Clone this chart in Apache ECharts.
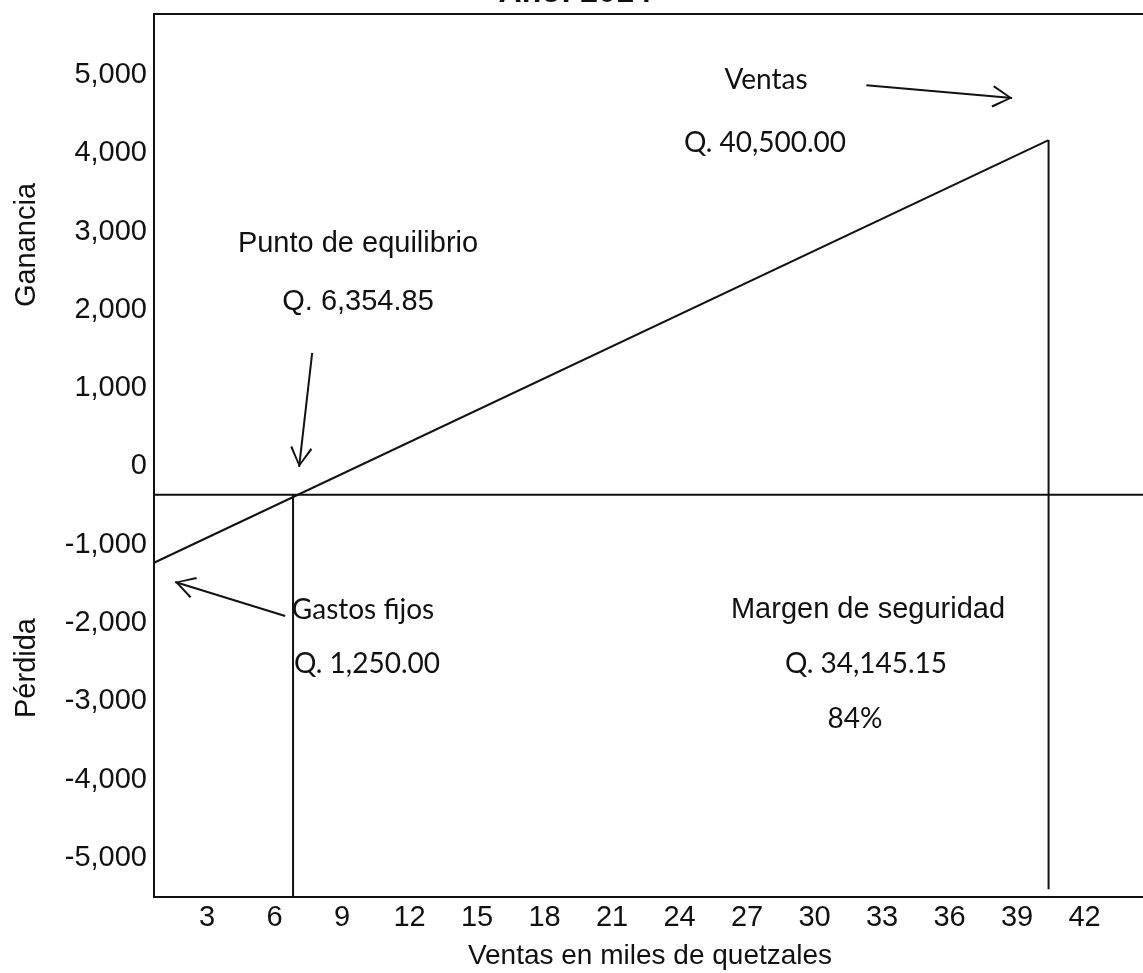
<!DOCTYPE html>
<html>
<head>
<meta charset="utf-8">
<script src="https://cdn.jsdelivr.net/npm/echarts@6/dist/echarts.min.js"></script>
<style>
  html, body { margin: 0; padding: 0; background: #fff; }
  #chart { width: 1143px; height: 973px; }
</style>
</head>
<body>
<div id="chart"></div>
<script>
// datos
const xTicks = [3, 6, 9, 12, 15, 18, 21, 24, 27, 30, 33, 36, 39, 42];
const yTicks = [-5000, -4000, -3000, -2000, -1000, 0, 1000, 2000, 3000, 4000, 5000];
const ventasX = [0.64, 40.4];          // miles de quetzales
const gananciaY = [-1230, 4170];       // recta de ganancia
const nivelCero = -360;                // linea horizontal del punto de equilibrio
const equilibrioX = 6.82;
const ventasTotalX = 40.4;
const xRange = [0.64, 44.73];
const yRange = [-5500, 5780];

// flechas: [desde, punta]
const flechaVentas = [[32.3, 4870], [38.78, 4706]];
const flechaEquilibrio = [[7.67, 1450], [7.09, -6]];
const flechaGastos = [[6.47, -1910], [1.58, -1475]];

const chart = echarts.init(document.getElementById("chart"));

const negro = "#111";
const arial = "'Liberation Sans', Arial, sans-serif";
const narrow = "'Liberation Sans Narrow', 'Arial Narrow', 'Liberation Sans', sans-serif";
const calibri = "Lato, 'Open Sans', sans-serif";

// punta de flecha abierta (la punta queda en el centro de la caja)
const punta = "path://M10,0 L20,17 L18.4,18.2 L10,3 L1.6,18.2 L0,17 Z M10,-18 L10.02,-18 L10,-17.98 Z";

function flecha(f) {
  return [
    { coord: f[0], symbol: "none" },
    { coord: f[1], symbol: punta, symbolSize: [22, 40] },
  ];
}

function linea(data) {
  return {
    type: "line",
    data: data,
    symbol: "none",
    silent: true,
    lineStyle: { color: negro, width: 2 },
  };
}

function fmt(v) {
  return v.toLocaleString("en-US");
}

const texto = (t, x, y, size, family, extra) => ({
  type: "text",
  x: x,
  y: y,
  style: Object.assign(
    {
      text: t,
      fontSize: size,
      fontFamily: family,
      fill: negro,
      align: "center",
      verticalAlign: "middle",
    },
    extra || {}
  ),
});

const option = {
  animation: false,
  backgroundColor: "#fff",
  grid: {
    show: true,
    left: 154,
    right: -3,
    top: 14,
    bottom: 76,
    outerBoundsMode: "none",
    borderColor: negro,
    borderWidth: 2,
  },
  xAxis: {
    type: "value",
    min: xRange[0],
    max: xRange[1],
    axisLine: { show: false },
    axisTick: { show: false },
    splitLine: { show: false },
    axisLabel: {
      customValues: xTicks,
      margin: 6,
      color: negro,
      fontSize: 29,
      fontFamily: narrow,
    },
    name: "Ventas en miles de quetzales",
    nameLocation: "middle",
    nameGap: 45,
    nameTextStyle: {
      color: negro,
      fontSize: 28,
      fontFamily: arial,
      padding: [0, 0, 0, 0],
    },
  },
  yAxis: {
    type: "value",
    min: yRange[0],
    max: yRange[1],
    axisLine: { show: false },
    axisTick: { show: false },
    splitLine: { show: false },
    axisLabel: {
      customValues: yTicks,
      margin: 7,
      color: negro,
      fontSize: 29,
      fontFamily: arial,
      formatter: fmt,
    },
  },
  series: [
    linea([[ventasX[0], gananciaY[0]], [ventasX[1], gananciaY[1]]]),
    linea([[xRange[0], nivelCero], [xRange[1], nivelCero]]),
    linea([[equilibrioX, nivelCero], [equilibrioX, yRange[0]]]),
    linea([[ventasTotalX, gananciaY[1]], [ventasTotalX, -5400]]),
    {
      type: "line",
      data: [],
      silent: true,
      markLine: {
        silent: true,
        animation: false,
        label: { show: false },
        lineStyle: { color: negro, width: 2, type: "solid" },
        itemStyle: { color: negro },
        data: [flecha(flechaVentas), flecha(flechaEquilibrio), flecha(flechaGastos)],
      },
    },
  ],
  graphic: [
    texto("Año: 2014", 575, -7, 32, arial, { fontWeight: "bold" }),
    {
      type: "text",
      x: 27,
      y: 245,
      rotation: Math.PI / 2,
      style: { text: "Ganancia", fontSize: 29, fontFamily: arial, fill: negro, align: "center", verticalAlign: "middle" },
    },
    {
      type: "text",
      x: 27,
      y: 668,
      rotation: Math.PI / 2,
      style: { text: "Pérdida", fontSize: 29, fontFamily: arial, fill: negro, align: "center", verticalAlign: "middle" },
    },
    texto("Ventas", 766, 80, 28, calibri, { letterSpacing: 3 }),
    texto("Q. 40,500.00", 765, 143, 28, calibri),
    texto("Punto de equilibrio", 358, 244, 29, arial),
    texto("Q. 6,354.85", 358, 302, 29, arial),
    texto("Gastos fijos", 363, 610, 28, calibri),
    texto("Q. 1,250.00", 367, 664, 28, calibri),
    texto("Margen de seguridad", 868, 610, 29, arial),
    texto("Q. 34,145.15", 866, 664, 28, calibri),
    texto("84%", 855, 719, 28, calibri),
  ],
};

chart.setOption(option);
</script>
</body>
</html>
